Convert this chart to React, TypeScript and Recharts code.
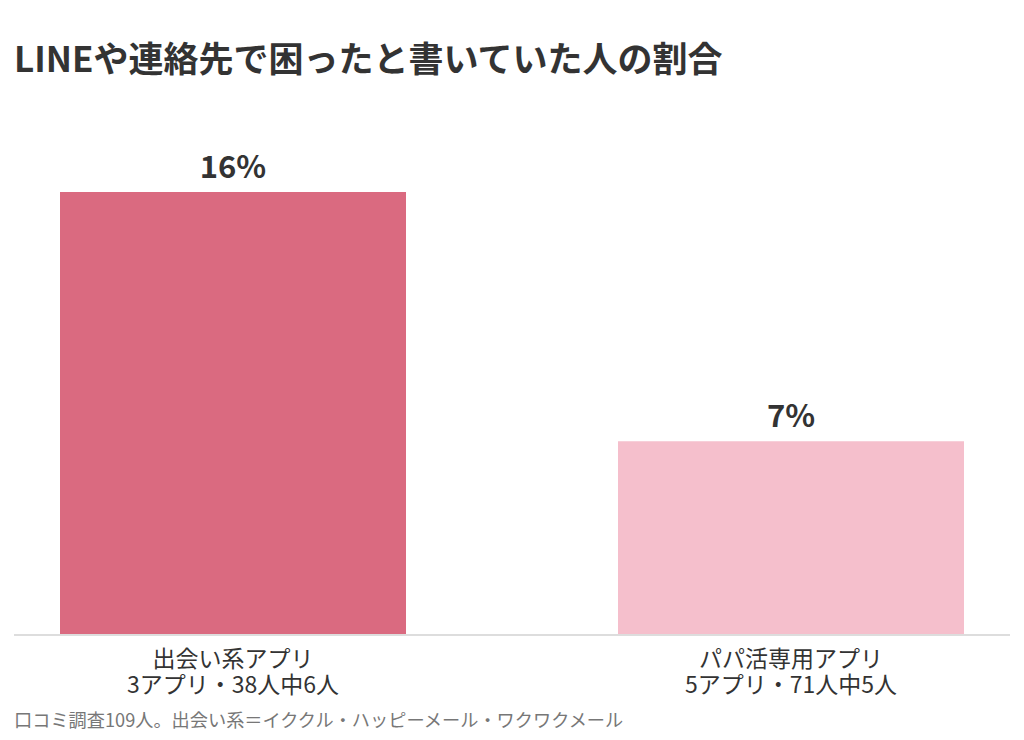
import { BarChart, Bar, XAxis, YAxis, LabelList, Cell } from 'recharts';

const categories = ['出会い系アプリ', 'パパ活専用アプリ'];
const subLabels = ['3アプリ・38人中6人', '5アプリ・71人中5人'];
const values = [16, 7];
const colors = ['#DA6A80', '#F5BFCC'];

const data = categories.map((name, i) => ({ name, sub: subLabels[i], value: values[i] }));

const FONT = '"Noto Sans CJK JP", "Noto Sans", sans-serif';

function CategoryTick(props: any) {
  const { x, y, payload, index } = props;
  return (
    <text x={x} y={y} textAnchor="middle" fill="#333" fontSize={23} fontFamily={FONT}>
      <tspan x={x} dy={24}>{payload.value}</tspan>
      <tspan x={x} dy={26}>{subLabels[index]}</tspan>
    </text>
  );
}

export default function App() {
  return (
    <div style={{ position: 'relative', width: 1024, height: 740, margin: -8, background: '#fff', overflow: 'hidden', fontFamily: FONT }}>
      <div style={{ position: 'absolute', left: 14, top: 34, fontSize: 35, fontWeight: 700, color: '#333', lineHeight: '46px', whiteSpace: 'nowrap' }}>
        LINEや連絡先で困ったと書いていた人の割合
      </div>
      <div style={{ position: 'absolute', left: 0, top: 0 }}>
        <BarChart width={1024} height={740} data={data} margin={{ top: 192, right: 14, bottom: 40, left: 14 }} barSize={346}>
          <XAxis
            dataKey="name"
            height={65}
            axisLine={{ stroke: '#ddd', strokeWidth: 2 }}
            tickLine={false}
            interval={0}
            padding={{ left: -60, right: -60 }}
            tick={<CategoryTick />}
          />
          <YAxis hide domain={[0, 16]} />
          <Bar dataKey="value" isAnimationActive={false}>
            {data.map((d, i) => (
              <Cell key={d.name} fill={colors[i]} />
            ))}
            <LabelList
              dataKey="value"
              position="top"
              offset={14}
              formatter={(v: any) => `${v}%`}
              style={{ fontSize: 31, fontWeight: 700, fill: '#333', fontFamily: FONT }}
            />
          </Bar>
        </BarChart>
      </div>
      <div style={{ position: 'absolute', left: 14, top: 707, fontSize: 18.2, color: '#777', whiteSpace: 'nowrap', lineHeight: '24px' }}>
        口コミ調査109人。出会い系＝イククル・ハッピーメール・ワクワクメール
      </div>
    </div>
  );
}
